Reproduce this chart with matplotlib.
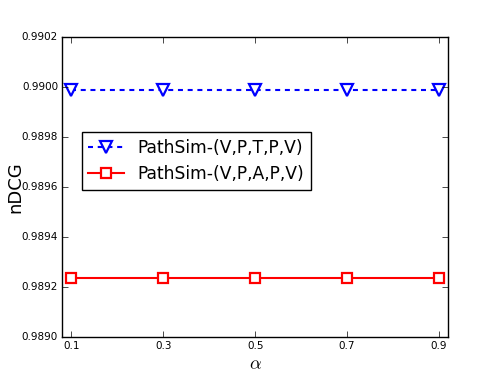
import matplotlib
matplotlib.use("Agg")
import matplotlib.pyplot as plt

alpha = [0.1, 0.3, 0.5, 0.7, 0.9]
vptpv = [0.98999, 0.98999, 0.98999, 0.98999, 0.98999]
vpapv = [0.989237, 0.989237, 0.989237, 0.989237, 0.989237]
labels = ["PathSim-(V,P,T,P,V)", "PathSim-(V,P,A,P,V)"]
yticks = [0.9890, 0.9892, 0.9894, 0.9896, 0.9898, 0.9900, 0.9902]

plt.style.use("classic")
plt.rcParams["lines.scale_dashes"] = False
fig = plt.figure(figsize=(4.98, 3.74), dpi=100)
fig.patch.set_facecolor("white")
ax = fig.add_subplot(111)
fig.subplots_adjust(left=0.125, right=0.9, bottom=0.1, top=0.9)

ax.plot(alpha, vptpv, color="blue", linestyle=(0, (3.6, 3.4)), linewidth=1.5, marker="v",
        markersize=8.5, markerfacecolor="white", markeredgecolor="blue",
        markeredgewidth=1.6, label=labels[0])
ax.plot(alpha, vpapv, color="red", linestyle="-", linewidth=1.5, marker="s",
        markersize=7.5, markerfacecolor="white", markeredgecolor="red",
        markeredgewidth=1.6, label=labels[1])

ax.set_xlim(0.08, 0.92)
ax.set_ylim(0.9890, 0.9902)
ax.set_xticks(alpha)
ax.set_xticklabels([str(a) for a in alpha])
ax.set_yticks(yticks)
ax.set_yticklabels(["%.4f" % y for y in yticks])
ax.tick_params(labelsize=7.5, pad=3)
ax.set_xlabel(r"$\alpha$", fontsize=13)
ax.set_ylabel("nDCG", fontsize=13)
ax.xaxis.set_label_coords(0.5, -0.063)
ax.yaxis.set_label_coords(-0.098, 0.5)

ax.legend(loc="upper left", bbox_to_anchor=(0.05, 0.683), borderaxespad=0,
          numpoints=1, fontsize=12.3, labelspacing=0.45, handlelength=2.1,
          handletextpad=0.75, borderpad=0.4,
          frameon=True, fancybox=False)

fig.savefig("out.png", dpi=100, facecolor="white")
